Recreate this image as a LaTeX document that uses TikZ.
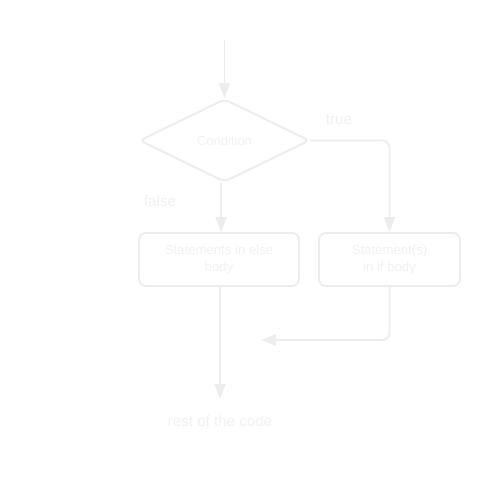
\documentclass[tikz,border=0pt]{standalone}
\usepackage{fontspec}
\setmainfont{Liberation Sans}
\usetikzlibrary{arrows.meta,positioning,calc,shapes.geometric}
\definecolor{FlowLine}{RGB}{237,237,237}
\definecolor{FlowText}{RGB}{241,241,241}
\tikzset{
  decision/.style={diamond, draw=FlowLine, line width=1.1pt, rounded corners=3pt, aspect=2, minimum width=3.4cm, minimum height=1.66cm, inner sep=0pt, text=FlowText, font=\fontsize{7.4}{9}\selectfont},
  block/.style={draw=FlowLine, line width=1.1pt, rounded corners=4pt, align=center, text=FlowText, minimum height=1.06cm, inner sep=2pt, font=\fontsize{7.5}{9.6}\selectfont},
  lbl/.style={text=FlowText, font=\fontsize{8.6}{10}\selectfont},
  arr/.style={-{Triangle[length=0.3cm, width=0.22cm]}, line width=1.1pt, draw=FlowLine, rounded corners=4pt}
}
\begin{document}
\begin{tikzpicture}
\useasboundingbox (0,0) rectangle (10,9.7);
\node[decision] (cond) at (4.49,6.89) {Condition};
\coordinate (start) at (4.49,8.9);
\node[block, minimum width=3.2cm] (elsebox) at (4.38,4.51) {Statements in else\\body};
\node[block, minimum width=2.82cm] (ifbox) at (7.79,4.51) {Statement(s)\\in if body};
\node[lbl, inner ysep=0.32cm] (rest) at (4.4,1.28) {rest of the code};
\coordinate (merge) at (5.22,2.9);
\node[lbl] (truelbl) at (6.78,7.3) {true};
\node[lbl] (falselbl) at (3.2,5.68) {false};
\draw[arr] (start) -- (cond.north);
\draw[arr] (cond.east) -| (ifbox.north);
\draw[arr] (cond.south -| 4.42,0) -- (elsebox.north -| 4.42,0);
\draw[arr] (elsebox.south -| rest.north) -- (rest.north);
\draw[arr] (ifbox.south) |- (merge);
\end{tikzpicture}
\end{document}
